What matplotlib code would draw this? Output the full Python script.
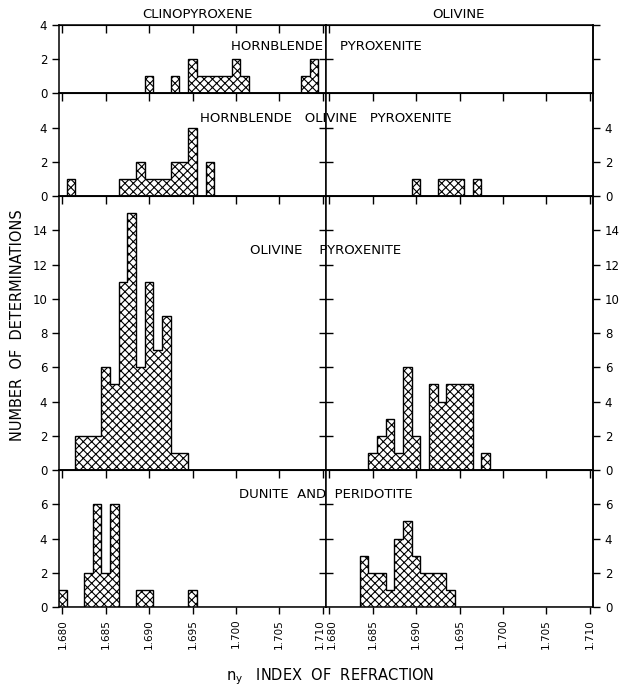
import numpy as np
import matplotlib
matplotlib.use("Agg")
import matplotlib.pyplot as plt
import matplotlib.transforms as mtransforms

# ==========================
# DATA (ny bin centres, bins 0.001 wide, counts)
# ==========================

hp_cpx_ny = [1.690, 1.693, 1.695, 1.696, 1.697, 1.698, 1.699, 1.700, 1.701, 1.708, 1.709]
hp_cpx_n = [1, 1, 2, 1, 1, 1, 1, 2, 1, 1, 2]

hop_cpx_ny = [1.681, 1.687, 1.688, 1.689, 1.690, 1.691, 1.692, 1.693, 1.694, 1.695, 1.697]
hop_cpx_n = [1, 1, 1, 2, 1, 1, 1, 2, 2, 4, 2]
hop_ol_ny = [1.690, 1.693, 1.694, 1.695, 1.697]
hop_ol_n = [1, 1, 1, 1, 1]

op_cpx_ny = [1.682, 1.683, 1.684, 1.685, 1.686, 1.687, 1.688, 1.689, 1.690, 1.691, 1.692, 1.693, 1.694]
op_cpx_n = [2, 2, 2, 6, 5, 11, 15, 6, 11, 7, 9, 1, 1]
op_ol_ny = [1.685, 1.686, 1.687, 1.688, 1.689, 1.690, 1.692, 1.693, 1.694, 1.695, 1.696, 1.698]
op_ol_n = [1, 2, 3, 1, 6, 2, 5, 4, 5, 5, 5, 1]

dp_cpx_ny = [1.680, 1.683, 1.684, 1.685, 1.686, 1.689, 1.690, 1.695]
dp_cpx_n = [1, 2, 6, 2, 6, 1, 1, 1]
dp_ol_ny = [1.684, 1.685, 1.686, 1.687, 1.688, 1.689, 1.690, 1.691, 1.692, 1.693, 1.694]
dp_ol_n = [3, 2, 2, 1, 4, 5, 3, 2, 2, 2, 1]

row_titles = ["HORNBLENDE    PYROXENITE",
              "HORNBLENDE   OLIVINE   PYROXENITE",
              "OLIVINE    PYROXENITE",
              "DUNITE  AND  PERIDOTITE"]
row_tops = [4, 6, 16, 8]
x_ticks = [1.680, 1.685, 1.690, 1.695, 1.700, 1.705, 1.710]
x_ticklabels = ["1.680", "1.685", "1.690", "1.695", "1.700", "1.705", "1.710"]

rows = [
    (hp_cpx_ny, hp_cpx_n, [], []),
    (hop_cpx_ny, hop_cpx_n, hop_ol_ny, hop_ol_n),
    (op_cpx_ny, op_cpx_n, op_ol_ny, op_ol_n),
    (dp_cpx_ny, dp_cpx_n, dp_ol_ny, dp_ol_n),
]

# ==========================
# FIGURE
# ==========================

plt.rcParams['font.family'] = ['DejaVu Sans']
plt.rcParams['hatch.color'] = 'black'
plt.rcParams['hatch.linewidth'] = 0.8

W, H = 620, 687
fig = plt.figure(figsize=(6.2, 6.87), dpi=100)
gs = fig.add_gridspec(4, 2, height_ratios=row_tops,
                      left=59 / W, right=593 / W, top=1 - 25 / H, bottom=1 - 607 / H,
                      hspace=0, wspace=0)

edges = np.arange(1.6795, 1.7106, 0.001)
centres = np.round(edges[:-1] + 0.0005, 3)


def counts_for(ny, n):
    c = np.zeros(len(centres))
    for v, k in zip(ny, n):
        c[np.argmin(np.abs(centres - v))] = k
    return c


tick_kw = dict(length=5, width=1, labelsize=8.5)

for r, (cny, cn, ony, on) in enumerate(rows):
    top = row_tops[r]
    last = r == 3
    for c in range(2):
        ax = fig.add_subplot(gs[r, c])
        ny, n = (cny, cn) if c == 0 else (ony, on)
        if len(ny):
            ax.stairs(counts_for(ny, n), edges, fill=True, facecolor='white',
                      edgecolor='black', hatch='xxxx', linewidth=1.0)
        ax.set_xlim(1.6796, 1.7104)
        ax.set_ylim(0, top)
        for s in ax.spines.values():
            s.set_linewidth(1.1)

        # x ticks: inward on top of each panel, outward with labels on bottom row
        ax.set_xticks(x_ticks)
        if last:
            ax.set_xticklabels(x_ticklabels, rotation=90)
            ax.tick_params(axis='x', direction='out', length=5, width=1, labelsize=7.5)
            # keep 1.710 | 1.680 apart at the shared edge
            lbls = ax.get_xticklabels()
            edge_lbl = lbls[-1] if c == 0 else lbls[0]
            dx = -2.5 if c == 0 else 2.5
            edge_lbl.set_transform(edge_lbl.get_transform() +
                                   mtransforms.ScaledTranslation(dx / 100, 0, fig.dpi_scale_trans))
        else:
            ax.tick_params(axis='x', bottom=False, labelbottom=False)
        sec_x = ax.secondary_xaxis('top')
        sec_x.set_xticks(x_ticks if not (r == 0 and c == 1) else x_ticks[:1])
        sec_x.tick_params(direction='in', labeltop=False, length=6, width=1)

        if c == 0:
            yt = list(range(0, top + 1 if r == 0 else top, 2))
            ax.set_yticks(yt)
            ax.tick_params(axis='y', direction='out', left=True, right=False, **tick_kw)
        else:
            ax.set_yticks(list(range(2, top, 2)))
            ax.tick_params(axis='y', direction='inout', length=10, width=1,
                           labelleft=False)
            sec_y = ax.secondary_yaxis('right')
            if r == 0:
                sec_y.set_yticks([2, 4])
                sec_y.tick_params(direction='out', labelright=False, length=5, width=1)
            else:
                sec_y.set_yticks(list(range(0, top, 2)))
                sec_y.tick_params(direction='out', **tick_kw)
            sec_y.spines['right'].set_linewidth(1.1)

# ==========================
# TEXT
# ==========================

title_y = [46, 118, 250, 495]
for t, y in zip(row_titles, title_y):
    fig.text(326 / W, 1 - y / H, t, ha='center', va='center', fontsize=9.5)

fig.text(197 / W, 1 - 15 / H, "CLINOPYROXENE", ha='center', va='center', fontsize=9.5)
fig.text(458 / W, 1 - 15 / H, "OLIVINE", ha='center', va='center', fontsize=9.5)
fig.text(18 / W, 1 - 325 / H, "NUMBER  OF  DETERMINATIONS", rotation=90,
         ha='center', va='center', fontsize=10.5)
fig.text(330 / W, 1 - 677 / H, r"$\mathregular{n_y}$   INDEX  OF  REFRACTION",
         ha='center', va='center', fontsize=10.5)

fig.savefig("out.png", dpi=100)
plt.close(fig)
